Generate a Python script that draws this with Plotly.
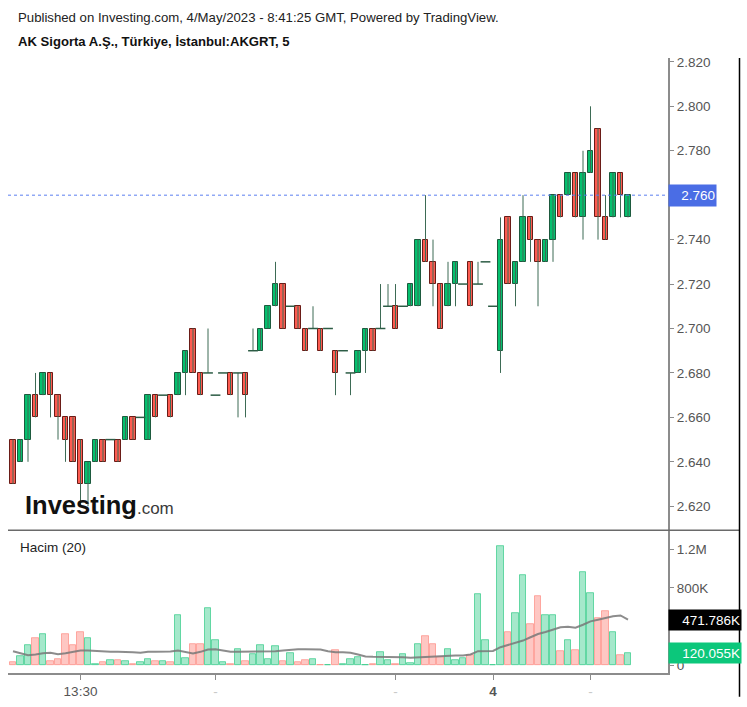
import plotly.graph_objects as go

# ---------------- data (5-minute bars, AKGRT) ----------------
opens = [2.65, 2.64, 2.65, 2.67, 2.67, 2.68, 2.67, 2.66, 2.66, 2.65,
         2.63, 2.64, 2.65, 2.65, 2.65, 2.65, 2.66, 2.66, 2.65, 2.67,
         2.67, 2.67, 2.67, 2.68, 2.70, 2.68, 2.68, 2.67, 2.68, 2.68,
         2.68, 2.68, 2.69, 2.69, 2.70, 2.71, 2.72, 2.71, 2.71, 2.70,
         2.70, 2.70, 2.70, 2.69, 2.69, 2.68, 2.68, 2.69, 2.70, 2.70,
         2.71, 2.71, 2.71, 2.71, 2.71, 2.74, 2.73, 2.72, 2.71, 2.72,
         2.72, 2.73, 2.72, 2.73, 2.71, 2.69, 2.75, 2.72, 2.73, 2.75,
         2.74, 2.73, 2.74, 2.76, 2.76, 2.77, 2.75, 2.77, 2.79, 2.75,
         2.75, 2.77, 2.75]
highs = [2.65, 2.65, 2.67, 2.68, 2.68, 2.68, 2.67, 2.66, 2.66, 2.65,
         2.64, 2.65, 2.65, 2.65, 2.65, 2.66, 2.66, 2.66, 2.67, 2.67,
         2.67, 2.67, 2.68, 2.69, 2.70, 2.68, 2.70, 2.67, 2.68, 2.68,
         2.68, 2.68, 2.70, 2.70, 2.71, 2.73, 2.72, 2.71, 2.71, 2.70,
         2.71, 2.70, 2.70, 2.69, 2.69, 2.68, 2.69, 2.70, 2.70, 2.72,
         2.72, 2.72, 2.71, 2.72, 2.74, 2.76, 2.74, 2.72, 2.73, 2.73,
         2.72, 2.73, 2.73, 2.73, 2.71, 2.75, 2.75, 2.73, 2.76, 2.75,
         2.74, 2.74, 2.76, 2.76, 2.77, 2.77, 2.78, 2.80, 2.79, 2.76,
         2.77, 2.77, 2.76]
lows = [2.63, 2.64, 2.64, 2.66, 2.67, 2.66, 2.65, 2.64, 2.64, 2.62,
        2.62, 2.64, 2.64, 2.65, 2.64, 2.65, 2.65, 2.66, 2.65, 2.66,
        2.67, 2.66, 2.67, 2.67, 2.68, 2.67, 2.68, 2.67, 2.68, 2.67,
        2.66, 2.66, 2.69, 2.69, 2.70, 2.71, 2.70, 2.71, 2.70, 2.69,
        2.70, 2.69, 2.70, 2.67, 2.69, 2.67, 2.68, 2.68, 2.69, 2.70,
        2.71, 2.70, 2.71, 2.71, 2.71, 2.73, 2.71, 2.70, 2.71, 2.71,
        2.72, 2.71, 2.72, 2.73, 2.71, 2.68, 2.72, 2.71, 2.73, 2.73,
        2.71, 2.73, 2.73, 2.75, 2.76, 2.75, 2.74, 2.77, 2.74, 2.74,
        2.75, 2.75, 2.75]
closes = [2.63, 2.65, 2.67, 2.66, 2.68, 2.67, 2.66, 2.65, 2.64, 2.63,
          2.64, 2.65, 2.64, 2.65, 2.64, 2.66, 2.65, 2.66, 2.67, 2.66,
          2.67, 2.66, 2.68, 2.69, 2.68, 2.67, 2.68, 2.67, 2.68, 2.67,
          2.68, 2.67, 2.69, 2.70, 2.71, 2.72, 2.70, 2.71, 2.70, 2.69,
          2.70, 2.69, 2.70, 2.68, 2.69, 2.68, 2.69, 2.70, 2.69, 2.70,
          2.71, 2.70, 2.71, 2.72, 2.74, 2.73, 2.72, 2.70, 2.72, 2.73,
          2.72, 2.71, 2.72, 2.73, 2.71, 2.74, 2.72, 2.73, 2.75, 2.74,
          2.73, 2.74, 2.76, 2.75, 2.77, 2.75, 2.77, 2.78, 2.75, 2.74,
          2.77, 2.76, 2.76]
volumes_k = [27, 93, 206, 281, 322, 41, 62, 322, 206, 336,
             281, 10, 27, 48, 51, 41, 14, 27, 62, 41,
             41, 27, 514, 75, 219, 219, 590, 254, 27, 14,
             165, 41, 117, 206, 62, 192, 41, 123, 27, 48,
             62, 3, 3, 151, 7, 58, 86, 3, 7, 137,
             51, 7, 113, 24, 216, 298, 216, 79, 165, 51,
             75, 103, 730, 254, 2, 1228, 343, 538, 936, 422,
             717, 521, 521, 141, 254, 151, 964, 744, 490, 562,
             343, 103, 120.055]
vol_ma_k = [144, 123, 103, 110, 123, 127, 113, 123, 137, 151,
            151, 144, 137, 137, 137, 137, 134, 127, 137, 137,
            137, 141, 151, 137, 120, 137, 161, 165, 151, 137,
            137, 137, 137, 137, 137, 144, 151, 161, 165, 165,
            165, 161, 144, 134, 134, 127, 110, 89, 86, 86,
            86, 86, 82, 75, 79, 89, 93, 96, 96, 99,
            99, 110, 144, 147, 147, 185, 206, 226, 254, 288,
            322, 343, 370, 391, 398, 387, 418, 453, 470, 487,
            507, 514, 471.786]
tick_pos = [9, 27, 51, 64, 77]
tick_labels = ["13:30", "-", "-", "4", "-"]
price_ticks = [2.62, 2.64, 2.66, 2.68, 2.70, 2.72, 2.74, 2.76, 2.78, 2.80, 2.82]
vol_ticks = [0, 400000, 800000, 1200000]
vol_tick_labels = ["0", "", "800K", "1.2M"]   # 400K is hidden behind the MA label
last_price = 2.760

# ---------------- styling ----------------
FONT = "Liberation Sans, Arial, sans-serif"
UP = "#05c06e"
UP_EDGE = "#1d5a3e"
DN = "#fd5b50"
DN_EDGE = "#6a1c17"
WICK = "#3d6b55"
FLAT = "#2c5c45"
VOL_UP = "rgba(5,192,110,0.36)"
VOL_UP_EDGE = "rgba(5,192,110,0.55)"
VOL_DN = "rgba(253,91,80,0.34)"
VOL_DN_EDGE = "rgba(253,91,80,0.45)"

n = len(opens)
idx = list(range(n))

# geometry helpers (pixel layout of the original)
W, H = 747, 707
L, R, T, B = 8, 668, 58, 678
SEP = 534
def px_x(p):
    return (p - L) / (R - L)
def px_y(p):
    return (B - p) / (B - T)
split = px_y(SEP)

wx, wy = [], []
for i in idx:
    if highs[i] > lows[i]:
        wx += [i, i, None]
        wy += [lows[i], highs[i], None]

up_x = [i for i in idx if closes[i] > opens[i]]
dn_x = [i for i in idx if closes[i] < opens[i]]
fl_x = [i for i in idx if closes[i] == opens[i]]

fig = go.Figure()
fig.add_trace(go.Scatter(x=wx, y=wy, mode="lines", line=dict(color=WICK, width=1),
                         hoverinfo="skip", showlegend=False))
fig.add_trace(go.Bar(x=up_x, base=[opens[i] for i in up_x],
                     y=[closes[i] - opens[i] for i in up_x], width=0.72,
                     marker=dict(color=UP, line=dict(color=UP_EDGE, width=1)),
                     showlegend=False))
fig.add_trace(go.Bar(x=dn_x, base=[closes[i] for i in dn_x],
                     y=[opens[i] - closes[i] for i in dn_x], width=0.72,
                     marker=dict(color=DN, line=dict(color=DN_EDGE, width=1)),
                     showlegend=False))
fig.add_trace(go.Scatter(x=fl_x, y=[closes[i] for i in fl_x], mode="markers",
                         marker=dict(symbol="line-ew", size=7,
                                     line=dict(color=FLAT, width=1.5)),
                         showlegend=False))

vol = [v * 1000 for v in volumes_k]
ma = [v * 1000 for v in vol_ma_k]
vcol = [VOL_UP if closes[i] >= opens[i] else VOL_DN for i in idx]
vedge = [VOL_UP_EDGE if closes[i] >= opens[i] else VOL_DN_EDGE for i in idx]
fig.add_trace(go.Bar(x=idx, y=vol, yaxis="y2", width=0.92,
                     marker=dict(color=vcol, line=dict(color=vedge, width=1)),
                     showlegend=False))
fig.add_trace(go.Scatter(x=idx, y=ma, yaxis="y2", mode="lines",
                         line=dict(color="rgba(120,120,120,0.85)", width=2),
                         showlegend=False))

ticktext = []
for t in tick_labels:
    if t == "-":
        ticktext.append("<span style='color:#c9c9c9'>-</span>")
    elif t == "4":
        ticktext.append("<b>4</b>")
    else:
        ticktext.append(t)

price_text = ["" if abs(p - last_price) < 1e-9 else f"{p:.3f}" for p in price_ticks]

axis_col = "#8c8c8c"
lab_font = dict(family=FONT, size=13.5, color="#555555")

# x range so that bar i is centred at px 13 + 7.5 i
x0 = (L - 13) / 7.5
x1 = (R - 13) / 7.5
# y ranges from the pixel calibration
p_hi = 2.800 + (106.7 - T) / 2240
p_lo = 2.800 - (SEP - 106.7) / 2240
vscale = 1200000 / (670 - 553.3)
v_hi = (670 - SEP) * vscale
v_lo = (670 - B) * vscale

fig.update_layout(
    width=W, height=H,
    margin=dict(l=L, r=W - R, t=T, b=H - B),
    paper_bgcolor="white", plot_bgcolor="white",
    barmode="overlay", bargap=0,
    font=dict(family=FONT),
    xaxis=dict(domain=[0, 1], range=[x0, x1], anchor="y2",
               showline=True, linecolor=axis_col, linewidth=1.5,
               ticks="outside", ticklen=5, tickcolor=axis_col, tickwidth=1,
               tickvals=tick_pos, ticktext=ticktext, tickfont=lab_font,
               showgrid=False, zeroline=False),
    yaxis=dict(domain=[split, 1], range=[p_lo, p_hi], side="right", anchor="x",
               showline=True, linecolor=axis_col, linewidth=2,
               ticks="outside", ticklen=4, tickcolor=axis_col,
               tickvals=price_ticks, ticktext=price_text, tickfont=lab_font,
               showgrid=False, zeroline=False),
    yaxis2=dict(domain=[0, split], range=[v_lo, v_hi], side="right", anchor="x",
                showline=True, linecolor=axis_col, linewidth=2,
                ticks="outside", ticklen=4, tickcolor=axis_col,
                tickvals=vol_ticks, ticktext=vol_tick_labels, tickfont=lab_font,
                showgrid=False, zeroline=False),
)

shapes = [
    dict(type="line", xref="paper", yref="paper", x0=0, x1=px_x(739),
         y0=split, y1=split, line=dict(color="#6a6a6a", width=1.5)),
    dict(type="line", xref="paper", yref="paper", x0=px_x(739.5), x1=px_x(739.5),
         y0=px_y(702), y1=1, line=dict(color="black", width=1.5)),
    dict(type="line", xref="paper", yref="y", x0=0, x1=1, y0=last_price, y1=last_price,
         line=dict(color="#5b7ff0", width=1, dash="dot")),
]
fig.update_layout(shapes=shapes)

ann = [
    dict(xref="paper", yref="paper", x=px_x(16), y=px_y(17), xanchor="left", yanchor="middle",
         text="Published on Investing.com, 4/May/2023 - 8:41:25 GMT, Powered by TradingView.",
         showarrow=False, font=dict(family=FONT, size=13.2, color="#222222")),
    dict(xref="paper", yref="paper", x=px_x(16), y=px_y(41), xanchor="left", yanchor="middle",
         text="<b>AK Sigorta A.Ş., Türkiye, İstanbul:AKGRT, 5</b>",
         showarrow=False, font=dict(family=FONT, size=13.1, color="#111111")),
    dict(xref="paper", yref="paper", x=px_x(18), y=px_y(551), xanchor="left", yanchor="middle",
         text="Hacim (20)", showarrow=False, font=dict(family=FONT, size=13.5, color="#222222")),
    dict(xref="paper", yref="paper", x=px_x(23), y=px_y(509), xanchor="left", yanchor="middle",
         text="<b>Investing</b><span style='font-size:17px;color:#3a3a3a'>.com</span>",
         showarrow=False, font=dict(family=FONT, size=25.5, color="#111111")),
    dict(xref="paper", yref="y", x=1, y=last_price, xanchor="left", yanchor="middle",
         text="2.760", showarrow=False, bgcolor="#4a6de5", width=45, height=19,
         align="right", borderpad=1, font=dict(family=FONT, size=13.5, color="white")),
    dict(xref="paper", yref="y2", x=1, y=ma[-1], xanchor="left", yanchor="middle",
         text="471.786K", showarrow=False, bgcolor="black", width=70, height=18,
         align="right", borderpad=1, font=dict(family=FONT, size=13.5, color="white")),
    dict(xref="paper", yref="y2", x=1, y=vol[-1], xanchor="left", yanchor="middle",
         text="120.055K", showarrow=False, bgcolor="#0cc77b", width=70, height=18,
         align="right", borderpad=1, font=dict(family=FONT, size=13.5, color="white")),
]
fig.update_layout(annotations=ann)

fig.write_html("out.html")
